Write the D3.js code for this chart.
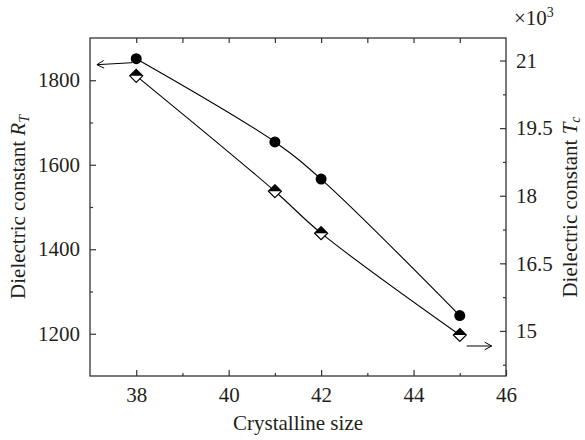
<!DOCTYPE html>
<html>
<head>
<meta charset="utf-8">
<script src="https://cdn.jsdelivr.net/npm/d3@7"></script>
<style>
  body { margin: 0; background: #fff; }
  text { font-family: "Liberation Serif", "DejaVu Serif", serif; fill: #231f20; }
</style>
</head>
<body>
<div id="chart"></div>
<script>
// data
const sizes = [38, 41, 42, 45];
const rtValues = [1851, 1654, 1566, 1243];   // filled circles, left axis
const tcValues = [20.66, 18.1, 17.17, 14.91]; // half diamonds, right axis (x10^3)
const xTicks = [38, 40, 42, 44, 46];
const leftTicks = [1200, 1400, 1600, 1800];
const rightTicks = [15, 16.5, 18, 19.5, 21];

let w = 585, h = 440;
let margin = {top: 38, right: 79, bottom: 64, left: 90};
let fs = "21px";

const svg = d3.select("#chart").append("svg")
    .attr("width", w).attr("height", h);

let xScale = d3.scaleLinear().domain([37, 46]).range([margin.left, w - margin.right]);
let yLeft = d3.scaleLinear().domain([1100, 1900]).range([h - margin.bottom, margin.top]);
let yRight = d3.scaleLinear().domain([14, 21.5]).range([h - margin.bottom, margin.top]);

const axisColor = "#333";

function styleAxis(g) {
    g.select(".domain").remove();
    g.selectAll("line").attr("stroke", axisColor).attr("stroke-width", 1.2);
    g.selectAll("text").attr("font-size", fs).attr("fill", "#231f20")
        .attr("font-family", "Liberation Serif");
}

// bottom axis (ticks inward)
svg.append("g")
    .attr("transform", `translate(0,${h - margin.bottom})`)
    .call(d3.axisBottom(xScale).tickValues(xTicks).tickSize(-6).tickPadding(11).tickFormat(d3.format("d")))
    .call(styleAxis);
svg.append("g")
    .attr("transform", `translate(0,${h - margin.bottom})`)
    .call(d3.axisBottom(xScale).tickValues([39, 41, 43, 45]).tickSize(-3).tickFormat(""))
    .call(styleAxis);
// top ticks
svg.append("g")
    .attr("transform", `translate(0,${margin.top})`)
    .call(d3.axisTop(xScale).tickValues(d3.range(38, 46)).tickSize(-5).tickFormat(""))
    .call(styleAxis);

// left axis
svg.append("g")
    .attr("transform", `translate(${margin.left},0)`)
    .call(d3.axisLeft(yLeft).tickValues(leftTicks).tickSize(-6).tickPadding(10).tickFormat(d3.format("d")))
    .call(styleAxis);
svg.append("g")
    .attr("transform", `translate(${margin.left},0)`)
    .call(d3.axisLeft(yLeft).tickValues([1300, 1500, 1700]).tickSize(-3).tickFormat(""))
    .call(styleAxis);

// right axis
svg.append("g")
    .attr("transform", `translate(${w - margin.right},0)`)
    .call(d3.axisRight(yRight).tickValues(rightTicks).tickSize(-6).tickPadding(10).tickFormat(d => d))
    .call(styleAxis)
    .selectAll("text").attr("x", 10);
svg.append("g")
    .attr("transform", `translate(${w - margin.right},0)`)
    .call(d3.axisRight(yRight).tickValues([14.25, 15.75, 17.25, 18.75, 20.25]).tickSize(-3).tickFormat(""))
    .call(styleAxis);

// frame
svg.append("rect")
    .attr("x", margin.left).attr("y", margin.top)
    .attr("width", w - margin.left - margin.right)
    .attr("height", h - margin.top - margin.bottom)
    .attr("fill", "none").attr("stroke", axisColor).attr("stroke-width", 1.3);

// lines
let lineRt = d3.line().x((d, i) => xScale(sizes[i])).y(d => yLeft(d)).curve(d3.curveCatmullRom.alpha(0.5));
let lineTc = d3.line().x((d, i) => xScale(sizes[i])).y(d => yRight(d)).curve(d3.curveCatmullRom.alpha(0.5));

svg.append("path").attr("d", lineRt(rtValues))
    .attr("fill", "none").attr("stroke", "#000").attr("stroke-width", 1.1);
svg.append("path").attr("d", lineTc(tcValues))
    .attr("fill", "none").attr("stroke", "#000").attr("stroke-width", 1.1);

// circles
svg.selectAll(".rt")
    .data(rtValues)
    .enter()
    .append("circle")
    .attr("cx", (d, i) => xScale(sizes[i]))
    .attr("cy", d => yLeft(d))
    .attr("r", 5.5)
    .attr("fill", "#000");

// half-filled diamonds
let ds = 6.5;
let dia = svg.selectAll(".tc")
    .data(tcValues)
    .enter()
    .append("g")
    .attr("transform", (d, i) => `translate(${xScale(sizes[i])},${yRight(d)})`);
dia.append("path")
    .attr("d", `M0,${-ds}L${ds},0L0,${ds}L${-ds},0Z`)
    .attr("fill", "#fff").attr("stroke", "#000").attr("stroke-width", 1.2);
dia.append("path")
    .attr("d", `M0,${-ds}L${ds},0L${-ds},0Z`)
    .attr("fill", "#000");

// arrows pointing to the axes
function arrow(x1, y1, x2, y2) {
    svg.append("line").attr("x1", x1).attr("y1", y1).attr("x2", x2).attr("y2", y2)
        .attr("stroke", "#000").attr("stroke-width", 1);
    let ang = Math.atan2(y2 - y1, x2 - x1);
    let a = 8, s = 0.5;
    let p1 = [x2 - a * Math.cos(ang - s), y2 - a * Math.sin(ang - s)];
    let p2 = [x2 - a * Math.cos(ang + s), y2 - a * Math.sin(ang + s)];
    svg.append("path").attr("d", `M${p1[0]},${p1[1]}L${x2},${y2}L${p2[0]},${p2[1]}`)
        .attr("fill", "none").attr("stroke", "#000").attr("stroke-width", 1);
}
arrow(xScale(38) - 4, yLeft(rtValues[0]) + 4, xScale(37.15), yLeft(rtValues[0]) + 6);
arrow(xScale(45.15), yRight(tcValues[3]) + 11, xScale(45.69), yRight(tcValues[3]) + 11);

// axis titles
svg.append("text")
    .attr("text-anchor", "middle")
    .attr("x", (margin.left + w - margin.right) / 2)
    .attr("y", 430)
    .attr("font-size", fs)
    .text("Crystalline size");

let lt = svg.append("text")
    .attr("text-anchor", "middle")
    .attr("transform", `translate(25,${(margin.top + h - margin.bottom) / 2}) rotate(-90)`)
    .attr("font-size", fs);
lt.append("tspan").text("Dielectric constant ");
lt.append("tspan").attr("font-style", "italic").text("R");
lt.append("tspan").attr("font-style", "italic").attr("font-size", "14px").attr("dy", 4).text("T");

let rt = svg.append("text")
    .attr("text-anchor", "middle")
    .attr("transform", `translate(577,${(margin.top + h - margin.bottom) / 2}) rotate(-90)`)
    .attr("font-size", fs);
rt.append("tspan").text("Dielectric constant ");
rt.append("tspan").attr("font-style", "italic").text("T");
rt.append("tspan").attr("font-style", "italic").attr("font-size", "14px").attr("dy", 3).text("c");

let mult = svg.append("text")
    .attr("x", 514).attr("y", 25)
    .attr("font-size", fs);
mult.append("tspan").text("×10");
mult.append("tspan").attr("font-size", "14px").attr("dy", -8).text("3");
</script>
</body>
</html>
